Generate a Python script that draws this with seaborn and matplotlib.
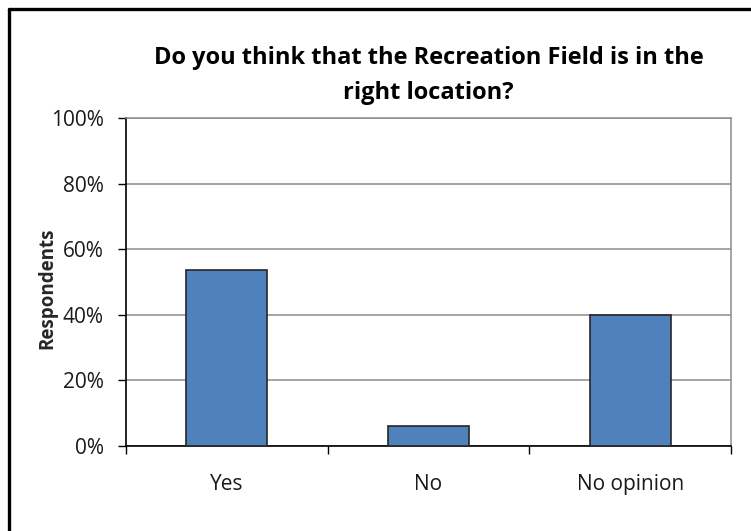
import matplotlib
matplotlib.use('Agg')
import matplotlib.pyplot as plt
import seaborn as sns
import pandas as pd
from matplotlib.lines import Line2D
from matplotlib.ticker import FuncFormatter

categories = ['Yes', 'No', 'No opinion']
shares = [53.6, 6.1, 40.0]
title = 'Do you think that the Recreation Field is in the\nright location?'
y_label = 'Respondents'

sns.set_style('white')
plt.rcParams['font.family'] = ['Open Sans', 'DejaVu Sans']

df = pd.DataFrame({'answer': categories, 'share': shares})

fig = plt.figure(figsize=(7.51, 5.31), dpi=100)
ax = fig.add_axes([126 / 751, 1 - 446 / 531, 605 / 751, 328 / 531])

sns.barplot(data=df, x='answer', y='share', color='#4F81BD', saturation=1,
            width=0.4, edgecolor='#262626', linewidth=1.2, ax=ax, zorder=3)

ax.set_ylim(0, 100)
ax.set_xlim(-0.5, 2.5)
ax.set_yticks(range(0, 101, 20))
ax.yaxis.set_major_formatter(FuncFormatter(lambda v, p: f'{v:.0f}%'))
ax.yaxis.grid(True, color='#8c8c8c', linewidth=1.1, zorder=0)
ax.set_axisbelow(True)

# category separators as major ticks, labels on minor ticks
ax.set_xticks([-0.5, 0.5, 1.5, 2.5])
ax.set_xticklabels([])
ax.set_xticks([0, 1, 2], minor=True)
ax.set_xticklabels(categories, minor=True)
ax.tick_params(axis='x', which='major', direction='out', length=6, width=1, color='black', bottom=True)
ax.tick_params(axis='x', which='minor', length=0, pad=20, labelsize=15, labelcolor='#1a1a1a')
ax.tick_params(axis='y', direction='out', length=6, width=1, color='black', left=True,
               labelsize=15, labelcolor='#1a1a1a', pad=10)

for side in ['left', 'bottom']:
    ax.spines[side].set_color('black')
    ax.spines[side].set_linewidth(1.2)
for side in ['top', 'right']:
    ax.spines[side].set_color('#8c8c8c')
    ax.spines[side].set_linewidth(1.1)

ax.set_xlabel('')
ax.set_ylabel(y_label, fontsize=13.5, fontweight='bold')
ax.yaxis.set_label_coords(-0.113, 0.48)
ax.set_title(title, fontsize=17, fontweight='bold', pad=14, linespacing=1.6, color='black')

# outer frame of the chart (cropped screenshot)
x0 = 8.5 / 751
y0 = 1 - 8.5 / 531
fig.add_artist(Line2D([x0, x0], [y0, -0.1], transform=fig.transFigure, color='black', linewidth=2.4))
fig.add_artist(Line2D([x0, 1.1], [y0, y0], transform=fig.transFigure, color='black', linewidth=2.4))

fig.savefig('out.png', dpi=100)
